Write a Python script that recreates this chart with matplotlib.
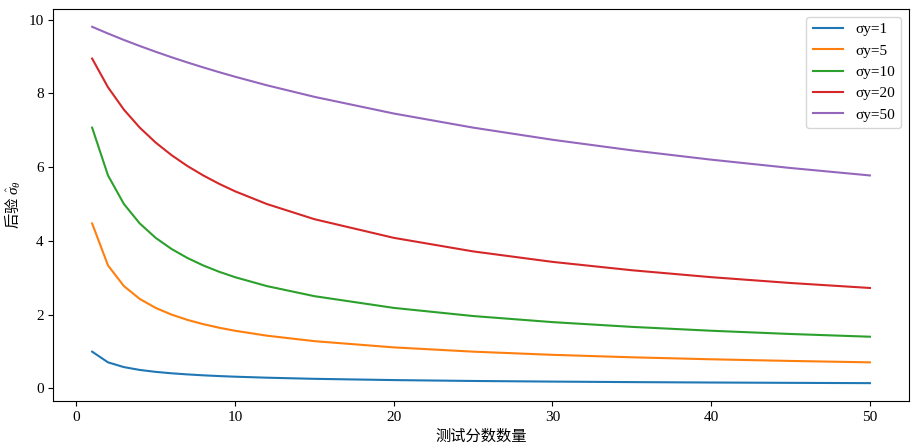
import matplotlib
matplotlib.use("Agg")
import matplotlib.pyplot as plt

plt.rcParams['font.family'] = ['Liberation Serif', 'Noto Sans CJK SC', 'DejaVu Sans']
plt.rcParams['font.size'] = 11
plt.rcParams['mathtext.fontset'] = 'custom'
plt.rcParams['mathtext.rm'] = 'Noto Sans CJK SC'
plt.rcParams['mathtext.it'] = 'Liberation Serif:italic'
plt.rcParams['mathtext.bf'] = 'Liberation Serif:bold'

n = [1, 2, 3, 4, 5, 6, 7, 8, 9, 10, 12, 15, 20, 25, 30, 35, 40, 45, 50]
sy1 = [0.995, 0.705, 0.576, 0.499, 0.447, 0.408, 0.378, 0.353, 0.333, 0.316, 0.289, 0.258, 0.224, 0.200, 0.183, 0.169, 0.158, 0.149, 0.141]
sy5 = [4.472, 3.333, 2.774, 2.425, 2.182, 2.0, 1.857, 1.741, 1.644, 1.562, 1.429, 1.280, 1.111, 0.995, 0.909, 0.842, 0.788, 0.743, 0.705]
sy10 = [7.071, 5.774, 5.0, 4.472, 4.082, 3.780, 3.536, 3.333, 3.162, 3.015, 2.774, 2.5, 2.182, 1.961, 1.796, 1.667, 1.562, 1.474, 1.400]
sy20 = [8.944, 8.165, 7.559, 7.071, 6.667, 6.325, 6.030, 5.774, 5.547, 5.345, 5.0, 4.588, 4.082, 3.714, 3.430, 3.203, 3.015, 2.857, 2.722]
sy50 = [9.806, 9.623, 9.449, 9.285, 9.129, 8.980, 8.839, 8.704, 8.575, 8.452, 8.220, 7.906, 7.454, 7.071, 6.742, 6.455, 6.202, 5.976, 5.774]
labels = ["σy=1", "σy=5", "σy=10", "σy=20", "σy=50"]

fig, ax = plt.subplots(figsize=(9.18, 4.48), dpi=100)
for ys, lab in zip([sy1, sy5, sy10, sy20, sy50], labels):
    ax.plot(n, ys, label=lab)
ax.set_xlabel("测试分数数量")
ax.set_ylabel(r"$\mathrm{后验}\ \hat{\sigma}_\theta$")
ax.legend(loc="upper right")
fig.subplots_adjust(left=0.058, right=0.99, top=0.98, bottom=0.105)
fig.savefig("out.png")
